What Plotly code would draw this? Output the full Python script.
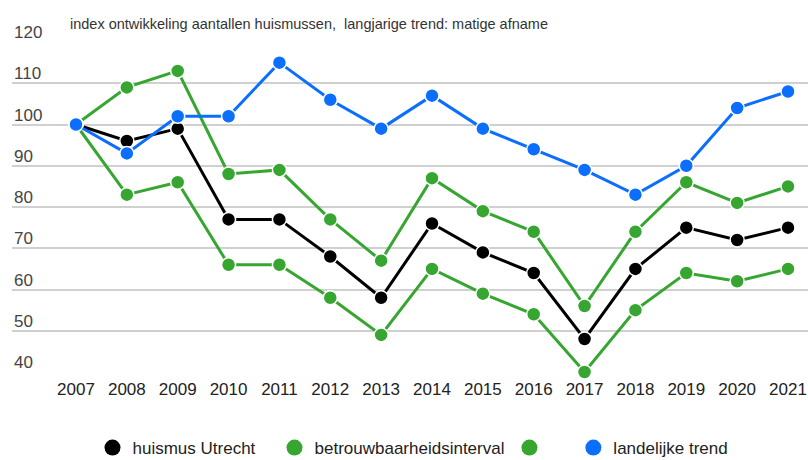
import plotly.graph_objects as go

years = list(range(2007, 2022))
huismus_utrecht = [100, 96, 99, 77, 77, 68, 58, 76, 69, 64, 48, 65, 75, 72, 75]
interval_boven = [100, 109, 113, 88, 89, 77, 67, 87, 79, 74, 56, 74, 86, 81, 85]
interval_onder = [100, 83, 86, 66, 66, 58, 49, 65, 59, 54, 40, 55, 64, 62, 65]
landelijke_trend = [100, 93, 102, 102, 115, 106, 99, 107, 99, 94, 89, 83, 90, 104, 108]
y_ticks = [40, 50, 60, 70, 80, 90, 100, 110, 120]
title_text = "index ontwikkeling aantallen huismussen,  langjarige trend: matige afname"
legend_names = ["huismus Utrecht", "betrouwbaarheidsinterval", "", "landelijke trend"]
legend_pad = [3, 0, 4, 0]  # non-breaking spaces to widen legend entries

BLACK = "#000000"
GREEN = "#36a631"
BLUE = "#0b6efd"
FONT = "Liberation Sans, Arial, sans-serif"

fig = go.Figure()

series = [
    (huismus_utrecht, BLACK),
    (interval_boven, GREEN),
    (interval_onder, GREEN),
    (landelijke_trend, BLUE),
]
for vals, col in series:
    fig.add_trace(go.Scatter(
        x=years, y=vals, mode="lines+markers",
        line=dict(color=col, width=3),
        marker=dict(color=col, size=14, line=dict(color="white", width=1.5)),
        cliponaxis=False, showlegend=False, hoverinfo="x+y",
    ))

# legend-only entries (circles only)
for name, pad, (_, col) in zip(legend_names, legend_pad, series):
    fig.add_trace(go.Scatter(
        x=[None], y=[None], mode="markers", name=name + "\u00a0" * pad,
        marker=dict(color=col, size=22), showlegend=True,
    ))

annotations = [dict(
    text=title_text, xref="paper", yref="paper", x=(68 - 12) / 796, y=1,
    xanchor="left", yanchor="bottom", yshift=8, showarrow=False,
    font=dict(family=FONT, size=14.5, color="#333333"),
)]
for t in y_ticks:
    annotations.append(dict(
        text=str(t), xref="paper", yref="y", x=0, y=t, xanchor="left",
        yanchor="bottom", xshift=0, yshift=-2, showarrow=False,
        font=dict(family=FONT, size=17, color="#444444"),
    ))

fig.update_layout(
    width=808, height=460,
    margin=dict(l=12, r=0, t=42, b=88, autoexpand=False),
    paper_bgcolor="white", plot_bgcolor="white",
    font=dict(family=FONT, size=17, color="#222222"),
    xaxis=dict(
        range=[2005.742, 2021.393], tickmode="array", tickvals=years,
        ticktext=[str(y) for y in years], showgrid=False, zeroline=False,
        showline=False, ticks="", ticklabelstandoff=5,
        tickfont=dict(size=17, color="#222222"),
    ),
    yaxis=dict(
        range=[40, 120], tickmode="array", tickvals=y_ticks,
        showticklabels=False, showgrid=True, gridcolor="#d0d0d0", gridwidth=1.5,
        zeroline=False, showline=False,
    ),
    legend=dict(
        orientation="h", x=0.5 + 3 / 796, xanchor="center", y=-(448 - 372) / 330,
        yanchor="middle", font=dict(family=FONT, size=17, color="#222222"),
        itemsizing="trace",
    ),
    annotations=annotations,
)

fig.write_html("out.html", config={"displayModeBar": False})

# remove default page margin so the figure sits at the window's top-left corner
with open("out.html", encoding="utf-8") as f:
    html = f.read()
html = html.replace("<head>", "<head><style>html,body{margin:0;padding:0;overflow:hidden;}</style>", 1)
with open("out.html", "w", encoding="utf-8") as f:
    f.write(html)
